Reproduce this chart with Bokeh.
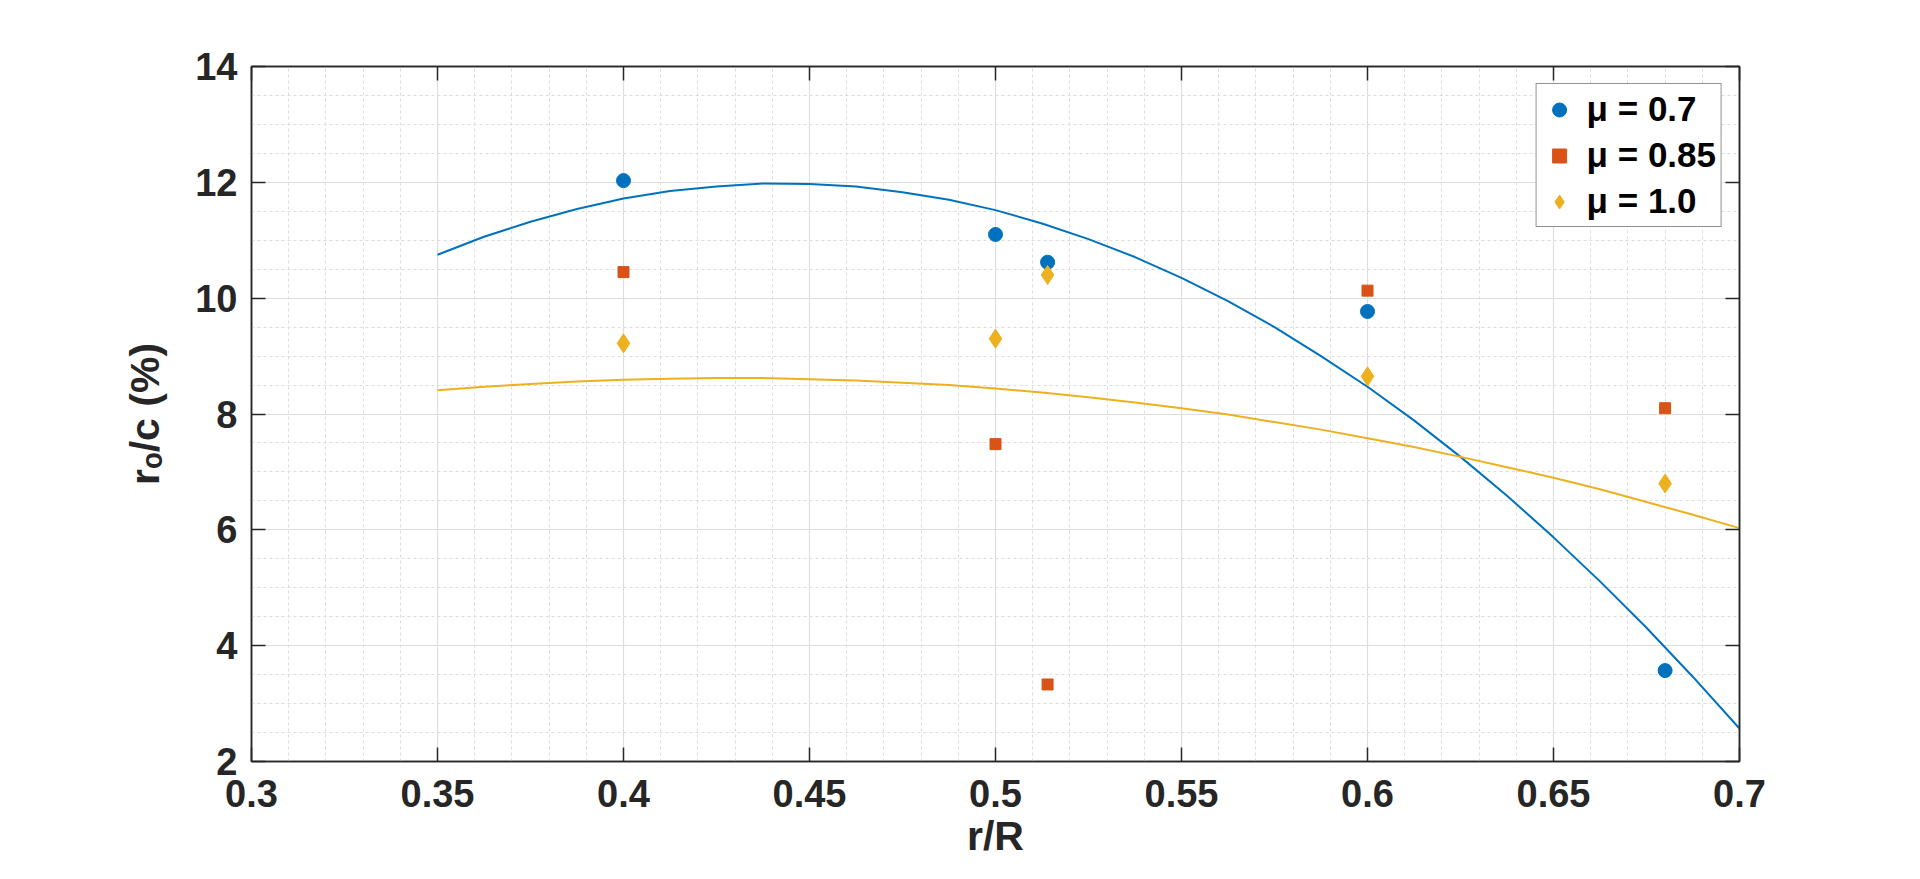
from bokeh.plotting import figure
from bokeh.models import FixedTicker, LinearAxis, Range1d, Legend, LegendItem
from bokeh.embed import file_html
from bokeh.resources import INLINE

# ---- data ----
r_R = [0.4, 0.5, 0.514, 0.6, 0.68]
mu07 = [12.03, 11.10, 10.62, 9.77, 3.57]
mu085 = [10.45, 7.48, 3.33, 10.13, 8.10]
mu10 = [9.22, 9.30, 10.40, 8.65, 6.80]

fit_x = [0.35, 0.3625, 0.375, 0.3875, 0.4, 0.4125, 0.425, 0.4375, 0.45, 0.4625,
         0.475, 0.4875, 0.5, 0.5125, 0.525, 0.5375, 0.55, 0.5625, 0.575, 0.5875,
         0.6, 0.6125, 0.625, 0.6375, 0.65, 0.6625, 0.675, 0.6875, 0.7]
fit07 = [10.75, 11.06, 11.32, 11.54, 11.72, 11.85, 11.93, 11.98, 11.97, 11.93,
         11.83, 11.70, 11.52, 11.29, 11.02, 10.71, 10.35, 9.95, 9.50, 9.00,
         8.47, 7.89, 7.26, 6.59, 5.87, 5.11, 4.31, 3.46, 2.57]
fit10 = [8.41, 8.47, 8.52, 8.56, 8.59, 8.61, 8.62, 8.62, 8.60, 8.58,
         8.54, 8.50, 8.44, 8.37, 8.29, 8.20, 8.10, 7.99, 7.86, 7.73,
         7.58, 7.43, 7.26, 7.08, 6.90, 6.70, 6.48, 6.26, 6.03]

x_ticks = [0.3, 0.35, 0.4, 0.45, 0.5, 0.55, 0.6, 0.65, 0.7]
x_tick_labels = ["0.3", "0.35", "0.4", "0.45", "0.5", "0.55", "0.6", "0.65", "0.7"]
y_ticks = [2, 4, 6, 8, 10, 12, 14]
y_tick_labels = ["2", "4", "6", "8", "10", "12", "14"]
legend_labels = ["\u03bc = 0.7", "\u03bc = 0.85", "\u03bc = 1.0"]
x_label = "r/R"
y_label = "r\u2092/c (%)"

BLUE = "#0072BD"
ORANGE = "#D95319"
YELLOW = "#EDB120"
DARK = "#262626"
FONT = "Liberation Sans"

x_minor = [round(0.3 + 0.01 * i, 2) for i in range(41)]
y_minor = [2 + 0.5 * i for i in range(25)]
xticker = FixedTicker(ticks=x_ticks, minor_ticks=x_minor)
yticker = FixedTicker(ticks=y_ticks, minor_ticks=y_minor)

p = figure(width=1904, height=871, output_backend="svg", toolbar_location=None,
           x_range=Range1d(0.3, 0.7), y_range=Range1d(2, 14),
           min_border_left=251, min_border_right=165, min_border_top=66,
           min_border_bottom=110, x_axis_label=x_label, y_axis_label=y_label)
p.background_fill_color = "white"
p.border_fill_color = "white"
p.outline_line_color = DARK
p.outline_line_width = 1.5

for ax, tk, labs in ((p.xaxis[0], xticker, x_tick_labels), (p.yaxis[0], yticker, y_tick_labels)):
    ax.ticker = tk
    ax.major_label_overrides = {t: l for t, l in zip(tk.ticks, labs)}
    ax.major_label_text_font = FONT
    ax.major_label_text_font_style = "bold"
    ax.major_label_text_font_size = "38px"
    ax.major_label_text_color = DARK
    ax.axis_label_text_font = FONT
    ax.axis_label_text_font_style = "bold"
    ax.axis_label_text_font_size = "41px"
    ax.axis_label_text_color = DARK
    ax.axis_line_color = DARK
    ax.axis_line_width = 1.5
    ax.major_tick_line_color = DARK
    ax.major_tick_line_width = 1.5
    ax.major_tick_in = 14
    ax.major_tick_out = 0
    ax.minor_tick_in = 0
    ax.minor_tick_out = 0

p.xaxis[0].major_label_standoff = 18
p.xaxis[0].axis_label_standoff = 3
p.yaxis[0].major_label_standoff = 14
p.yaxis[0].axis_label_standoff = 24

for side, tk in (("above", xticker), ("right", yticker)):
    a = LinearAxis(ticker=tk, major_label_text_color=None, major_label_text_font_size="1px",
                   axis_line_color=DARK, axis_line_width=1.5,
                   major_tick_line_color=DARK, major_tick_line_width=1.5,
                   major_tick_in=14, major_tick_out=0, minor_tick_in=0, minor_tick_out=0)
    p.add_layout(a, side)

for g in (p.xgrid[0], p.ygrid[0]):
    g.grid_line_color = "#dedede"
    g.grid_line_width = 1.2
    g.minor_grid_line_color = "#dcdcdc"
    g.minor_grid_line_width = 1
    g.minor_grid_line_dash = "3 3"
p.xgrid[0].ticker = xticker
p.ygrid[0].ticker = yticker

p.line(fit_x, fit07, line_color=BLUE, line_width=2)
p.line(fit_x, fit10, line_color=YELLOW, line_width=2)

r1 = p.scatter(r_R, mu07, marker="circle", size=14, fill_color=BLUE, line_color=BLUE)
r2 = p.scatter(r_R, mu085, marker="square", size=11, fill_color=ORANGE, line_color=ORANGE)
r3 = p.scatter(r_R, mu10, marker="diamond", size=19, fill_color=YELLOW, line_color=YELLOW)

legend = Legend(items=[LegendItem(label=legend_labels[0], renderers=[r1]),
                       LegendItem(label=legend_labels[1], renderers=[r2]),
                       LegendItem(label=legend_labels[2], renderers=[r3])],
                location="top_right")
legend.margin = 17
legend.padding = 5
legend.spacing = 6
legend.glyph_width = 35
legend.glyph_height = 35
legend.label_height = 40
legend.label_standoff = 10
legend.label_text_font = FONT
legend.label_text_font_style = "bold"
legend.label_text_font_size = "35px"
legend.label_text_color = "black"
legend.border_line_color = DARK
legend.border_line_width = 1.5
legend.background_fill_color = "white"
legend.background_fill_alpha = 1.0
p.add_layout(legend)

open("out.html", "w").write(file_html(p, INLINE))
